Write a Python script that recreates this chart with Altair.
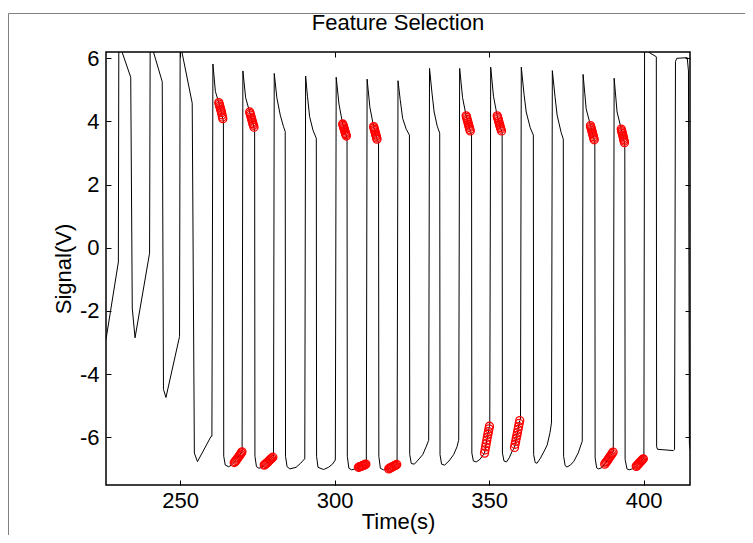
import altair as alt
import pandas as pd

# ---------------- data ----------------
title_text = "Feature Selection"
x_title = "Time(s)"
y_title = "Signal(V)"
x_ticks = [250, 300, 350, 400]
y_ticks = [-6, -4, -2, 0, 2, 4, 6]
x_domain = [226.0, 415.0]
y_domain = [-7.51, 6.2]

# signal trace (time, volts)
line_t = [
    226.0, 230.0, 230.15, 234.0, 234.5, 235.4, 240.1, 240.3, 244.2, 244.6, 245.4, 249.8,
    250.0, 253.9, 254.6, 255.6, 260.0,
    260.27, 260.6, 261.4, 262.5, 263.8, 264.0,
    264.1, 264.6, 265.7, 266.6, 267.5, 270.0,
    270.05, 270.3, 271.2, 272.5, 273.9, 274.1,
    274.2, 274.7, 275.5, 276.4, 277.2, 280.0,
    280.2, 280.45, 281.3, 282.4, 283.4, 284.0,
    284.1, 284.6, 285.5, 287.5, 289.0, 290.3,
    290.33, 290.6, 291.2, 291.9, 293.0, 294.06,
    294.15, 294.6, 296.4, 298.0, 299.3, 300.2,
    300.22, 300.5, 301.4, 302.6, 303.8, 304.0,
    304.1, 304.6, 305.5, 306.6, 307.7, 310.1,
    310.25, 310.5, 311.4, 312.6, 313.7, 314.2,
    314.3, 314.8, 315.8, 316.7, 317.5, 320.1,
    320.2, 320.5, 321.2, 322.0, 323.2, 324.2,
    324.3, 324.8, 325.8, 327.0, 328.5, 329.6, 330.4,
    330.43, 330.7, 331.5, 332.2, 333.2, 334.0,
    334.1, 334.6, 335.6, 337.0, 338.5, 339.6, 340.1,
    340.15, 340.45, 341.4, 342.55, 343.9, 344.3,
    344.4, 344.9, 345.8, 347.0, 348.5, 349.3, 350.1,
    350.2, 350.5, 351.4, 352.6, 354.0, 354.2,
    354.3, 354.8, 355.6, 356.5, 357.4, 358.2, 359.9,
    360.14, 360.4, 361.3, 362.0, 363.3, 364.3,
    364.4, 364.9, 365.5, 366.6, 368.0, 368.8, 369.7, 370.15,
    370.18, 370.45, 371.3, 372.0, 373.3, 374.0,
    374.1, 374.6, 375.2, 376.3, 377.4, 378.8, 380.1,
    380.13, 380.4, 381.4, 382.8, 384.0, 384.2,
    384.3, 384.8, 385.4, 386.5, 387.4, 390.1,
    390.17, 390.45, 391.4, 392.75, 393.8, 393.9,
    394.0, 394.6, 395.3, 396.3, 397.6, 399.9,
    400.08, 400.3, 401.7, 404.1,
    404.2, 404.5, 409.6, 410.0, 410.3, 410.7, 414.1, 414.5, 414.8, 415.1,
]
line_v = [
    -2.9, -0.45, 6.5, 5.4, -1.91, -2.85, -0.17, 6.55, 5.26, -4.48, -4.74, -2.81,
    6.48, 4.58, -6.5, -6.77, -5.97,
    -5.97, 5.82, 4.95, 4.6, 4.08, 4.02,
    -6.6, -6.88, -6.93, -6.88, -6.8, -6.45,
    -6.45, 5.6, 4.75, 4.3, 3.82, 3.78,
    -6.6, -6.93, -6.98, -6.95, -6.88, -6.63,
    -6.62, 5.52, 4.75, 4.2, 3.85, 3.68,
    -6.6, -6.93, -7.0, -6.95, -6.82, -6.68,
    -6.68, 5.44, 4.8, 4.15, 3.72, 3.47,
    -6.6, -6.95, -7.02, -6.95, -6.85, -6.72,
    -6.72, 5.4, 4.55, 3.92, 3.54, 3.5,
    -6.6, -6.98, -7.03, -7.0, -6.95, -6.85,
    -6.84, 5.34, 4.45, 3.84, 3.44, 3.35,
    -6.6, -6.98, -7.03, -7.02, -7.0, -6.86,
    -6.85, 5.29, 4.7, 4.1, 3.75, 3.57,
    -6.55, -6.83, -6.85, -6.72, -6.55, -6.3, -6.1,
    -6.1, 5.68, 4.9, 4.3, 3.85, 3.63,
    -6.55, -6.85, -6.88, -6.75, -6.55, -6.3, -6.1,
    -6.1, 5.68, 4.75, 4.18, 3.7, 3.6,
    -6.5, -6.75, -6.78, -6.7, -6.5, -6.05, -5.65,
    -5.6, 5.72, 4.8, 4.18, 3.7, 3.65,
    -6.5, -6.75, -6.78, -6.65, -6.45, -6.32, -5.47,
    -5.45, 5.72, 4.85, 4.3, 3.8, 3.57,
    -6.55, -6.8, -6.82, -6.66, -6.4, -6.24, -5.85, -5.55,
    -5.55, 5.61, 4.8, 4.2, 3.65, 3.44,
    -6.6, -6.9, -6.94, -6.88, -6.76, -6.5, -6.13,
    -6.13, 5.49, 4.4, 3.87, 3.42, 3.38,
    -6.65, -6.97, -7.0, -6.96, -6.85, -6.47,
    -6.46, 5.37, 4.3, 3.76, 3.33, 3.3,
    -6.7, -7.0, -7.03, -7.0, -6.92, -6.68,
    -6.67, 6.5, 6.19, 6.05,
    -6.3, -6.38, -6.42, -6.38, 5.9, 6.0, 6.02, 5.6, -6.2, -6.4,
]

# selected feature samples (red circles), ten per cluster
sel_t = [
    262.5, 262.65, 262.8, 262.95, 263.1, 263.25, 263.4, 263.55, 263.7, 263.8,
    272.5, 272.65, 272.8, 272.95, 273.1, 273.25, 273.4, 273.55, 273.7, 273.9,
    302.6, 302.73, 302.86, 303.0, 303.13, 303.26, 303.4, 303.53, 303.66, 303.8,
    312.6, 312.72, 312.85, 312.97, 313.1, 313.22, 313.35, 313.47, 313.6, 313.7,
    342.55, 342.7, 342.85, 343.0, 343.15, 343.3, 343.45, 343.6, 343.75, 343.9,
    352.6, 352.75, 352.9, 353.05, 353.2, 353.35, 353.5, 353.65, 353.8, 354.0,
    382.8, 382.93, 383.06, 383.2, 383.33, 383.46, 383.6, 383.73, 383.86, 384.0,
    392.75, 392.87, 392.98, 393.1, 393.22, 393.33, 393.45, 393.57, 393.68, 393.8,
    267.5, 267.8, 268.1, 268.4, 268.7, 269.0, 269.3, 269.55, 269.8, 270.0,
    277.2, 277.5, 277.8, 278.1, 278.4, 278.7, 279.0, 279.3, 279.65, 280.0,
    307.7, 307.95, 308.2, 308.5, 308.75, 309.0, 309.3, 309.55, 309.8, 310.1,
    317.5, 317.8, 318.1, 318.35, 318.6, 318.9, 319.2, 319.5, 319.8, 320.1,
    348.5, 348.68, 348.86, 349.04, 349.22, 349.4, 349.58, 349.76, 349.94, 350.1,
    358.2, 358.39, 358.58, 358.77, 358.96, 359.15, 359.34, 359.53, 359.72, 359.9,
    387.4, 387.7, 388.0, 388.3, 388.6, 388.9, 389.2, 389.5, 389.8, 390.1,
    397.6, 397.85, 398.1, 398.35, 398.6, 398.85, 399.1, 399.4, 399.65, 399.9,
]
sel_v = [
    4.60, 4.55, 4.49, 4.44, 4.39, 4.34, 4.28, 4.21, 4.14, 4.09,
    4.30, 4.25, 4.20, 4.14, 4.09, 4.04, 3.98, 3.93, 3.88, 3.82,
    3.92, 3.88, 3.84, 3.79, 3.75, 3.71, 3.66, 3.62, 3.58, 3.54,
    3.84, 3.80, 3.75, 3.71, 3.66, 3.61, 3.57, 3.53, 3.48, 3.44,
    4.18, 4.13, 4.07, 4.02, 3.97, 3.91, 3.86, 3.81, 3.75, 3.70,
    4.18, 4.13, 4.08, 4.02, 3.97, 3.91, 3.86, 3.81, 3.76, 3.70,
    3.87, 3.82, 3.77, 3.72, 3.67, 3.62, 3.57, 3.52, 3.47, 3.42,
    3.76, 3.71, 3.67, 3.62, 3.57, 3.53, 3.48, 3.43, 3.38, 3.33,
    -6.80, -6.77, -6.73, -6.69, -6.65, -6.61, -6.57, -6.53, -6.49, -6.46,
    -6.88, -6.86, -6.83, -6.81, -6.78, -6.75, -6.72, -6.69, -6.66, -6.63,
    -6.95, -6.94, -6.93, -6.92, -6.91, -6.90, -6.89, -6.88, -6.86, -6.85,
    -7.00, -6.98, -6.97, -6.95, -6.94, -6.92, -6.91, -6.89, -6.88, -6.86,
    -6.50, -6.40, -6.30, -6.20, -6.10, -6.00, -5.91, -5.82, -5.73, -5.65,
    -6.32, -6.22, -6.13, -6.03, -5.94, -5.85, -5.75, -5.66, -5.56, -5.47,
    -6.85, -6.81, -6.77, -6.73, -6.69, -6.64, -6.60, -6.56, -6.51, -6.47,
    -6.92, -6.89, -6.87, -6.84, -6.81, -6.79, -6.76, -6.73, -6.70, -6.68,
]

# ---------------- chart ----------------
sig = pd.DataFrame({"t": line_t, "v": line_v, "o": list(range(len(line_t)))})
sel = pd.DataFrame({"t": sel_t, "v": sel_v})
frame_df = pd.DataFrame({"k": [0]})

FONT = "Liberation Sans"
FS = 22
W, H = 584, 433
MINUS_FIX = "datum.value < 0 ? '-' + format(-datum.value, 'd') : format(datum.value, 'd')"

x_scale = alt.Scale(domain=x_domain, nice=False, zero=False)
y_scale = alt.Scale(domain=y_domain, nice=False, zero=False)

common_axis = dict(domain=False, grid=False, tickSize=5, offset=-5, tickColor="black",
                   tickWidth=1, labelFont=FONT, labelFontSize=FS, labelColor="black",
                   titleFont=FONT, titleFontSize=FS, titleColor="black",
                   titleFontWeight="normal")

line = alt.Chart(sig).mark_line(color="black", strokeWidth=1, clip=True).encode(
    x=alt.X("t:Q", scale=x_scale,
            axis=alt.Axis(orient="bottom", values=x_ticks, title=x_title,
                          labelPadding=5, titlePadding=0, labelExpr=MINUS_FIX, **common_axis)),
    y=alt.Y("v:Q", scale=y_scale,
            axis=alt.Axis(orient="left", values=y_ticks, title=y_title,
                          labelPadding=7, titlePadding=4, labelExpr=MINUS_FIX, **common_axis)),
    order="o:Q",
)

pts = alt.Chart(sel).mark_point(shape="circle", filled=False, color="#ff0000",
                                size=64, strokeWidth=1.3, opacity=1, clip=True).encode(
    x=alt.X("t:Q", scale=x_scale,
            axis=alt.Axis(orient="top", values=x_ticks, labels=False, title=None, **common_axis)),
    y=alt.Y("v:Q", scale=y_scale,
            axis=alt.Axis(orient="right", values=y_ticks, labels=False, title=None, **common_axis)),
)

# outer figure frame (only its left and top edges fall inside the page)
frame = alt.Chart(frame_df).mark_rect(fill=None, stroke="#808080", strokeWidth=1).encode(
    x=alt.value(-97.5), x2=alt.value(W + 200),
    y=alt.value(-38.5), y2=alt.value(H + 200),
)

chart = alt.layer(line, pts, frame).properties(
    width=W, height=H,
    title=alt.TitleParams(title_text, font=FONT, fontSize=FS, fontWeight="normal",
                          color="black", anchor="middle", offset=14, dy=36),
    autosize=alt.AutoSizeParams(type="none"),
    padding={"left": 98, "top": 44, "right": 55, "bottom": 50},
).configure(background="white").configure_view(stroke="black", strokeWidth=1.5)

chart.save("out.html", embed_options={"renderer": "svg", "actions": False})
